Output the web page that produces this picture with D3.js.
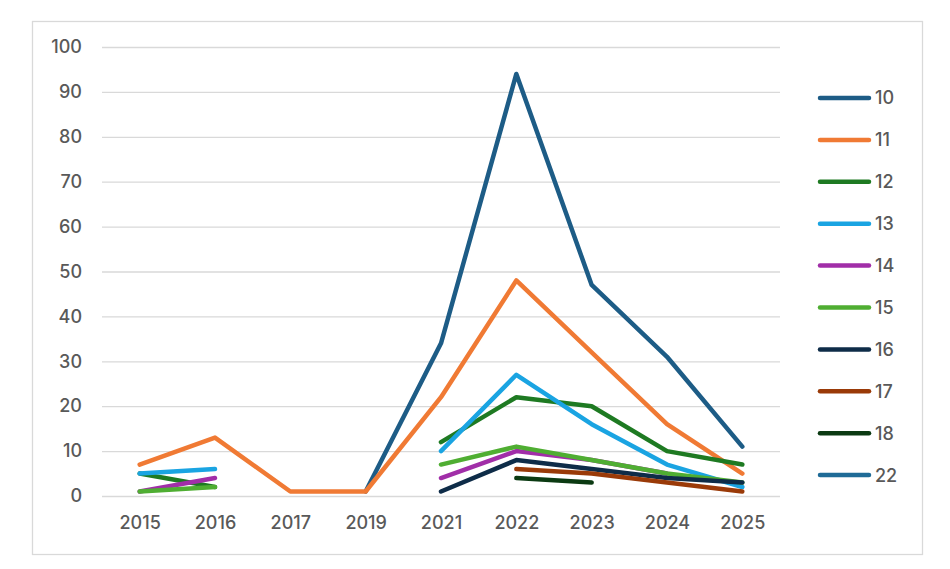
<!DOCTYPE html>
<html>
<head>
<meta charset="utf-8">
<script src="https://cdn.jsdelivr.net/npm/d3@7"></script>
<style>
  body { margin: 0; background: #fff; }
  text { font-family: Inter, "Liberation Sans", sans-serif; fill: #595959; }
</style>
</head>
<body>
<script>
// categories (years) and series values
const years = ["2015", "2016", "2017", "2019", "2021", "2022", "2023", "2024", "2025"];
const seriesNames = ["10", "11", "12", "13", "14", "15", "16", "17", "18", "22"];
const seriesColors = ["#1d5c86", "#f07a34", "#1e7a22", "#1aa4e2", "#a12ea8", "#4fae32", "#0e2c48", "#9a3a08", "#0b3a12", "#1f6b97"];

const s10 = [null, null, null, 1, 34, 94, 47, 31, 11];
const s11 = [7, 13, 1, 1, 22, 48, 32, 16, 5];
const s12 = [5, 2, null, null, 12, 22, 20, 10, 7];
const s13 = [5, 6, null, null, 10, 27, 16, 7, 2];
const s14 = [1, 4, null, null, 4, 10, 8, 5, null];
const s15 = [1, 2, null, null, 7, 11, 8, 5, 3];
const s16 = [null, null, null, null, 1, 8, 6, 4, 3];
const s17 = [null, null, null, null, null, 6, 5, 3, 1];
const s18 = [null, null, null, null, null, 4, 3, null, null];
const s22 = [null, null, null, null, null, null, null, null, null];
const seriesValues = [s10, s11, s12, s13, s14, s15, s16, s17, s18, s22];

const yTicks = [0, 10, 20, 30, 40, 50, 60, 70, 80, 90, 100];

const width = 950, height = 569;
const plot = { left: 102, right: 780, top: 47, bottom: 496 };

const svg = d3.select("body").append("svg")
  .attr("width", width)
  .attr("height", height);

// outer frame
svg.append("rect")
  .attr("x", 32.5).attr("y", 21.5)
  .attr("width", 890).attr("height", 533)
  .attr("fill", "none")
  .attr("stroke", "#d9d9d9")
  .attr("stroke-width", 1.3);

const x = d3.scalePoint()
  .domain(years)
  .range([plot.left, plot.right])
  .padding(0.5);

const y = d3.scaleLinear()
  .domain([0, 100])
  .range([plot.bottom, plot.top]);

// gridlines + y labels
const yAxis = svg.append("g")
  .attr("transform", `translate(${plot.left},0)`)
  .call(d3.axisLeft(y).tickValues(yTicks).tickSize(-(plot.right - plot.left)).tickPadding(20));
yAxis.select(".domain").remove();
yAxis.selectAll("line").attr("stroke", "#d9d9d9").attr("stroke-width", 1.3);
yAxis.selectAll("text").style("font-size", "18px").style("font-weight", 500).attr("fill", "#595959");

// x labels
const xAxis = svg.append("g")
  .attr("transform", `translate(0,${plot.bottom})`)
  .call(d3.axisBottom(x).tickSize(0).tickPadding(20));
xAxis.select(".domain").remove();
xAxis.selectAll("text").style("font-size", "18px").style("font-weight", 500).attr("fill", "#595959");

const line = d3.line()
  .defined(d => d != null)
  .x((d, i) => x(years[i]))
  .y(d => y(d));

svg.append("g").selectAll("path")
  .data(seriesValues)
  .join("path")
  .attr("d", d => line(d))
  .attr("fill", "none")
  .attr("stroke", (d, i) => seriesColors[i])
  .attr("stroke-width", 4.5)
  .attr("stroke-linejoin", "round")
  .attr("stroke-linecap", "round");

// legend
const legend = svg.append("g")
  .selectAll("g")
  .data(seriesNames)
  .join("g")
  .attr("transform", (d, i) => `translate(820,${98 + i * 41.9})`);

legend.append("line")
  .attr("x1", 0).attr("x2", 49)
  .attr("stroke", (d, i) => seriesColors[i])
  .attr("stroke-width", 4.5)
  .attr("stroke-linecap", "round");

legend.append("text")
  .attr("x", 55)
  .attr("dy", "0.36em")
  .style("font-size", "18px")
  .style("font-weight", 500)
  .text(d => d);
</script>
</body>
</html>
